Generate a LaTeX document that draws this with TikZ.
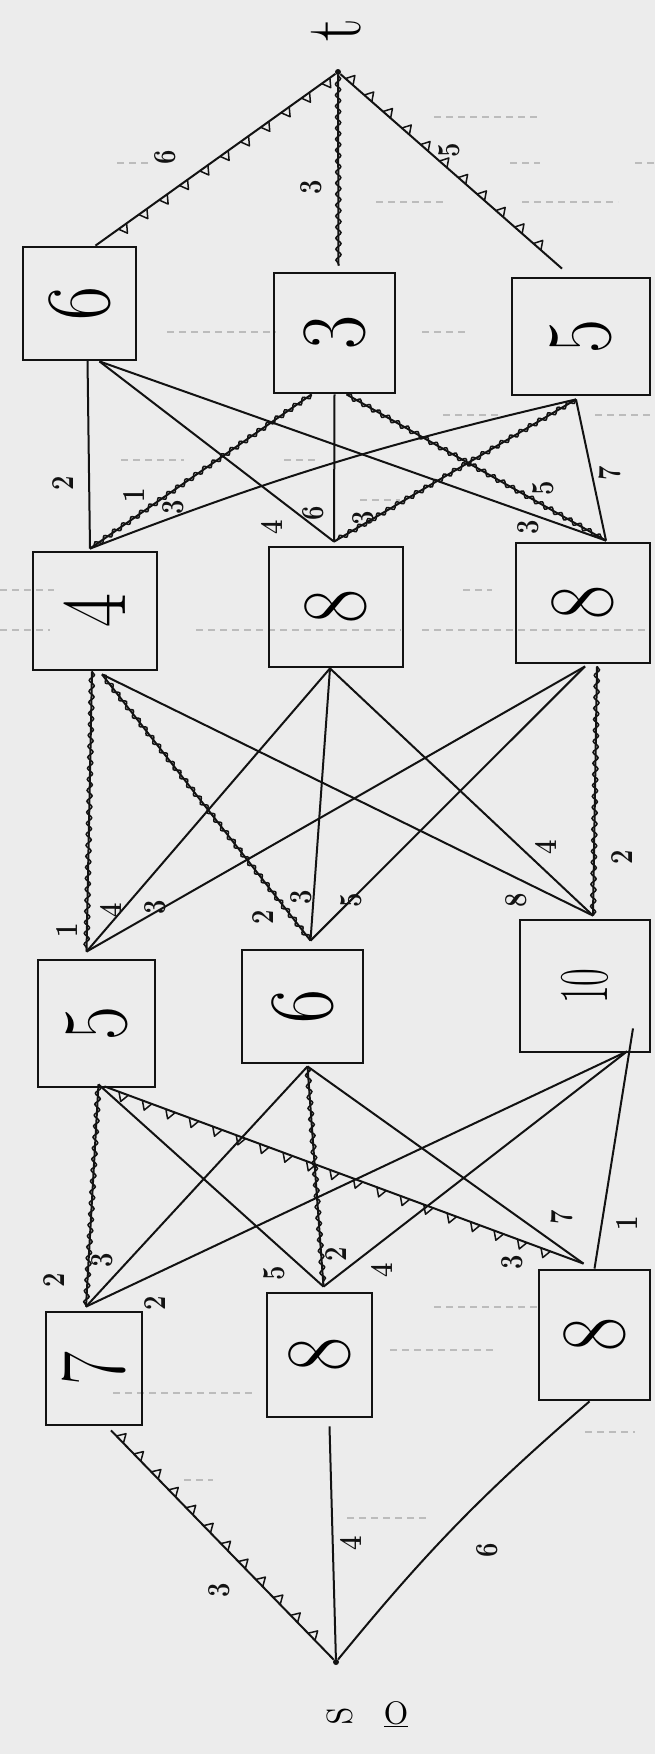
\documentclass[tikz,border=0pt]{standalone}
\usepackage{graphicx}
\usetikzlibrary{calc,decorations.pathmorphing,decorations.markings}
\definecolor{paper}{RGB}{236,236,236}
\definecolor{ink}{RGB}{18,18,18}
\definecolor{ruling}{RGB}{150,150,150}
% digits written sideways, slightly narrowed
\newcommand{\dig}[2][0.8]{\rotatebox{90}{\scalebox{#1}[1]{#2}}}
\tikzset{
  box/.style={draw=ink, line width=2.8pt, rectangle, inner sep=0pt,
              font=\fontsize{92}{92}\selectfont},
  lab/.style={font=\fontsize{32}{32}\selectfont\bfseries, inner sep=0pt, text=ink},
  dot/.style={circle, fill=ink, inner sep=0pt, minimum size=6pt},
  edge/.style={draw=ink, line width=2pt},
  coil/.style={edge, postaction={draw=ink, line width=1.5pt, decorate,
     decoration={snake, amplitude=2.6pt, segment length=11pt}}},
  teethL/.style={edge, postaction={decorate, decoration={markings,
     mark=between positions 0.04 and 0.97 step 25pt with
     {\draw[ink, line width=1.5pt, line join=round] (-5pt,0) -- (0,8.5pt) -- (5pt,0);}}}},
  teethR/.style={edge, postaction={decorate, decoration={markings,
     mark=between positions 0.04 and 0.97 step 25pt with
     {\draw[ink, line width=1.5pt, line join=round] (-5pt,0) -- (0,-8.5pt) -- (5pt,0);}}}},
  ruled/.style={draw=ruling, line width=1.1pt, dash pattern=on 7pt off 5pt, opacity=0.55},
}
\begin{document}
\begin{tikzpicture}[x=1pt, y=-1pt]
\fill[paper] (0,0) rectangle (655,1754);
\useasboundingbox (0,0) rectangle (655,1754);

% faint ruling of the notebook page
\foreach \yy/\xa/\xb in {117/434/539, 163/117/150, 163/510/540, 163/635/655,
  202/376/443, 202/522/618, 332/167/276, 332/422/468, 415/443/501, 415/595/655,
  460/121/184, 460/284/318, 500/360/400, 590/0/54, 590/463/492, 630/0/50,
  630/196/401, 630/422/650, 1307/434/539, 1350/390/493, 1393/113/255,
  1432/585/635, 1480/184/213, 1518/347/426}
  \draw[ruled] (\xa,\yy) -- (\xb,\yy);

% end points
\node[dot] (t) at (338,72) {};
\node[dot] (s) at (336,1662) {};
\node[font=\fontsize{80}{80}\selectfont, inner sep=0pt] (tl) at (336,30) {\dig{t}};
\node[font=\fontsize{58}{58}\selectfont, inner sep=0pt] (sl) at (340,1716) {\dig{s}};
\node[font=\fontsize{52}{52}\selectfont, inner sep=0pt] (ol) at (396,1714) {\underline{o}};

% layer 1
\node[box, minimum width=113pt, minimum height=113pt] (A6) at (79.5,303.5) {\dig{6}};
\node[box, minimum width=121pt, minimum height=120pt] (A3) at (334.5,333) {\dig{3}};
\node[box, minimum width=138pt, minimum height=117pt] (A5) at (581,336.5) {\dig{5}};
% layer 2
\node[box, minimum width=124pt, minimum height=118pt] (B4) at (95,611) {\dig{4}};
\node[box, minimum width=134pt, minimum height=120pt] (B8m) at (336,607) {\dig{8}};
\node[box, minimum width=134pt, minimum height=120pt] (B8r) at (583,603) {\dig{8}};
% layer 3
\node[box, minimum width=117pt, minimum height=127pt] (C5) at (96.5,1023.5) {\dig{5}};
\node[box, minimum width=121pt, minimum height=113pt] (C6) at (302.5,1006.5) {\dig{6}};
\node[box, minimum width=130pt, minimum height=132pt, font=\fontsize{70}{70}\selectfont] (C10) at (585,986) {\dig[0.55]{10}};
% layer 4
\node[box, minimum width=96pt, minimum height=113pt] (D7) at (94,1368.5) {\dig{7}};
\node[box, minimum width=105pt, minimum height=124pt] (D8m) at (319.5,1355) {\dig{8}};
\node[box, minimum width=111pt, minimum height=130pt] (D8r) at (594.5,1335) {\dig{8}};

% t to layer 1
\draw[teethL] (t) -- ($(A6.north)+(16,0)$);
\draw[coil] (t) -- ($(A3.north)+(4,-6)$);
\draw[teethL] (t) -- ($(A5.north)+(-19,-8)$);

% layer 1 to layer 2
\draw[edge] ($(A6.south)+(8,-2)$) -- ($(B4.north)+(-5,-2)$);
\draw[edge] ($(A6.south)+(20,0)$) -- ($(B8m.north)+(-2,-4)$);
\draw[edge] ($(A6.south)+(20,0)$) -- ($(B8r.north)+(23,-1)$);
\draw[coil] ($(A3.south)+(-23,0)$) -- ($(B4.north)+(-5,-2)$);
\draw[edge] (A3.south) -- ($(B8m.north)+(-2,-4)$);
\draw[coil] ($(A3.south)+(12,0)$) -- ($(B8r.north)+(23,-1)$);
\draw[edge] ($(A5.south)+(-5,3)$) to[bend right=4] ($(B4.north)+(-5,-2)$);
\draw[coil] ($(A5.south)+(-5,3)$) -- ($(B8m.north)+(-2,-4)$);
\draw[edge] ($(A5.south)+(-5,3)$) -- ($(B8r.north)+(23,-1)$);

% layer 2 to layer 3
\draw[coil] ($(B4.south)+(-3,0)$) -- ($(C5.north)+(-10,-7)$);
\draw[coil] ($(B4.south)+(7,3)$) -- ($(C6.north)+(8,-8)$);
\draw[edge] ($(B4.south)+(7,3)$) -- ($(C10.north)+(8,-3)$);
\draw[edge] ($(B8m.south)+(-6,0)$) -- ($(C5.north)+(-10,-7)$);
\draw[edge] ($(B8m.south)+(-6,0)$) -- ($(C6.north)+(8,-8)$);
\draw[edge] ($(B8m.south)+(-6,0)$) -- ($(C10.north)+(8,-3)$);
\draw[edge] ($(B8r.south)+(2,2)$) -- ($(C5.north)+(-10,-7)$);
\draw[edge] ($(B8r.south)+(2,2)$) -- ($(C6.north)+(8,-8)$);
\draw[coil] ($(B8r.south)+(14,2)$) -- ($(C10.north)+(8,-3)$);

% layer 3 to layer 4
\draw[coil] ($(C5.south)+(2,-4)$) -- ($(D7.north)+(-8,-4)$);
\draw[edge] ($(C5.south)+(2,-4)$) -- ($(D8m.north)+(4,-5)$);
\draw[teethR] ($(C5.south)+(8,-2)$) -- ($(D8r.north)+(-11,-5)$);
\draw[edge] ($(C6.south)+(5,2)$) -- ($(D7.north)+(-8,-4)$);
\draw[coil] ($(C6.south)+(5,2)$) -- ($(D8m.north)+(4,-5)$);
\draw[edge] ($(C6.south)+(5,2)$) -- ($(D8r.north)+(-11,-5)$);
\draw[edge] ($(C10.south)+(42,-2)$) -- ($(D7.north)+(-8,-4)$);
\draw[edge] ($(C10.south)+(42,-2)$) -- ($(D8m.north)+(4,-5)$);
\draw[edge] ($(C10.south)+(48,-25)$) -- (D8r.north);

% layer 4 to s
\draw[teethL] ($(D7.south)+(17,4)$) -- (s);
\draw[edge] ($(D8m.south)+(10,8)$) -- (s);
\draw[edge] ($(D8r.south)+(-5,0)$) to[bend right=5] (s);

% weights
\node[lab] (w1) at (165,157) {\dig{6}};
\node[lab] (w2) at (311,187) {\dig{3}};
\node[lab] (w3) at (449,150) {\dig{5}};
\node[lab] (w4) at (63,483) {\dig{2}};
\node[lab] (w5) at (134,495) {\dig{1}};
\node[lab] (w6) at (173,507) {\dig{3}};
\node[lab] (w7) at (272,527) {\dig{4}};
\node[lab] (w8) at (313,513) {\dig{6}};
\node[lab] (w9) at (363,518) {\dig{3}};
\node[lab] (w10) at (543,488) {\dig{5}};
\node[lab] (w11) at (528,527) {\dig{3}};
\node[lab] (w12) at (610,473) {\dig{7}};
\node[lab] (w13) at (67,930) {\dig{1}};
\node[lab] (w14) at (111,910) {\dig{4}};
\node[lab] (w15) at (155,907) {\dig{3}};
\node[lab] (w16) at (263,917) {\dig{2}};
\node[lab] (w17) at (301,897) {\dig{3}};
\node[lab] (w18) at (351,900) {\dig{5}};
\node[lab] (w19) at (516,900) {\dig{8}};
\node[lab] (w20) at (546,847) {\dig{4}};
\node[lab] (w21) at (622,857) {\dig{2}};
\node[lab] (w22) at (54,1280) {\dig{2}};
\node[lab] (w23) at (102,1260) {\dig{3}};
\node[lab] (w24) at (155,1303) {\dig{2}};
\node[lab] (w25) at (274,1273) {\dig{5}};
\node[lab] (w26) at (336,1254) {\dig{2}};
\node[lab] (w27) at (382,1270) {\dig{4}};
\node[lab] (w28) at (512,1262) {\dig{3}};
\node[lab] (w29) at (562,1217) {\dig{7}};
\node[lab] (w30) at (627,1223) {\dig{1}};
\node[lab] (w31) at (219,1590) {\dig{3}};
\node[lab] (w32) at (351,1543) {\dig{4}};
\node[lab] (w33) at (487,1550) {\dig{6}};
\end{tikzpicture}
\end{document}
